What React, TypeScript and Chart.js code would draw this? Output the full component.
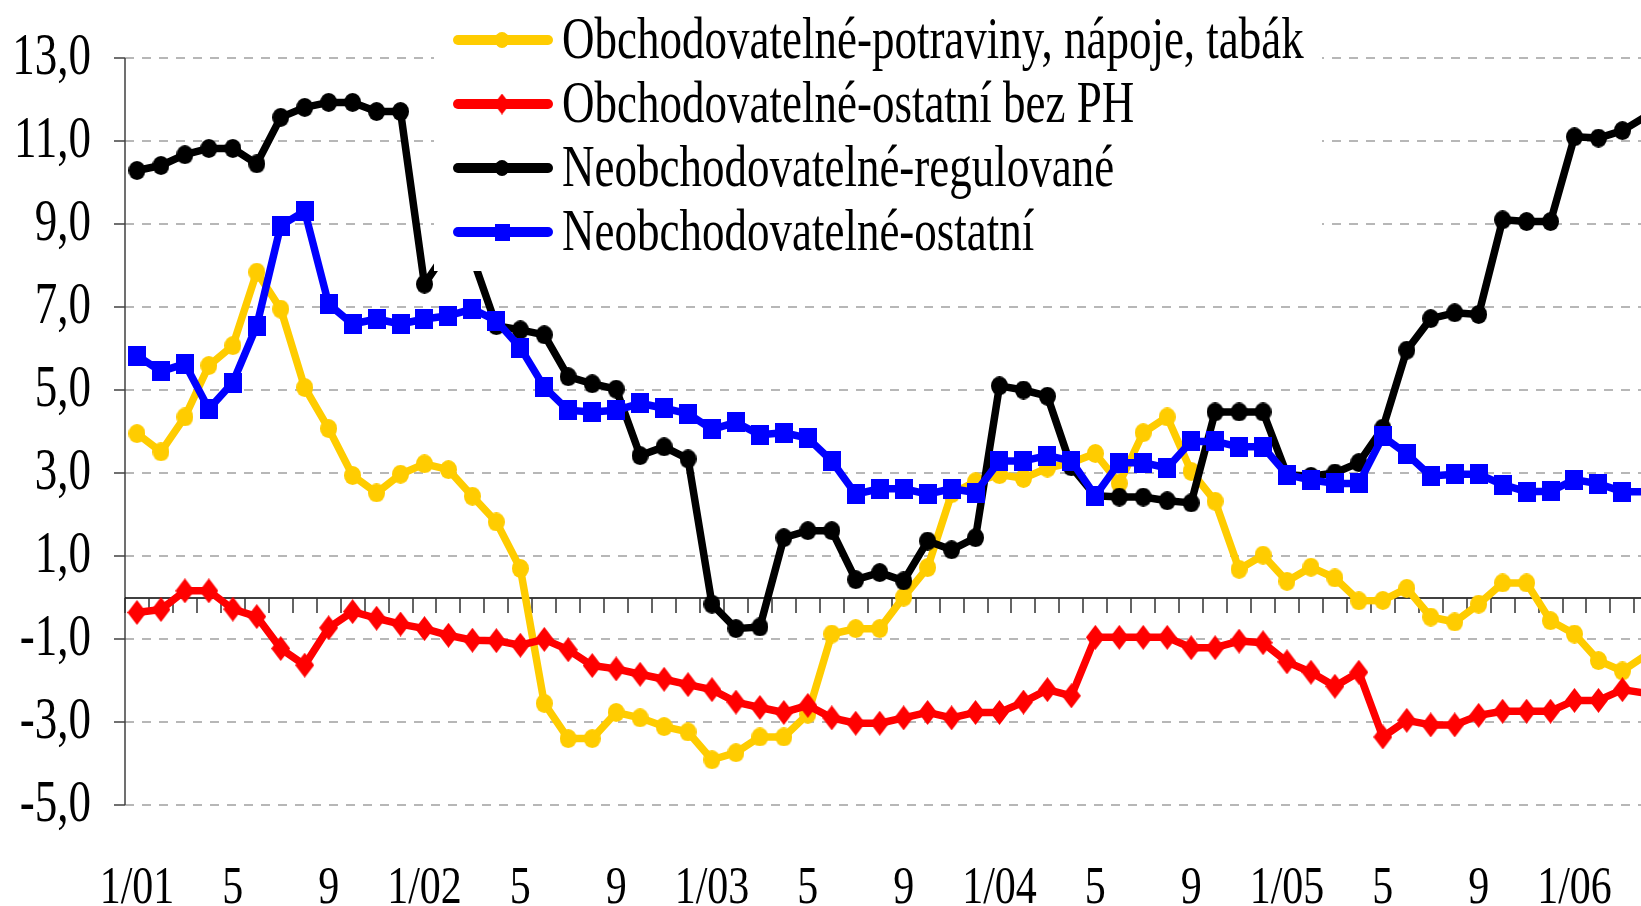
import React, { useEffect, useRef } from 'react';
import { Chart, registerables } from 'chart.js';

Chart.register(...registerables);

// ---------- DATA ----------
const categoryLabels: string[] = [
  '1/01', '', '', '', '5', '', '', '', '9', '', '', '',
  '1/02', '', '', '', '5', '', '', '', '9', '', '', '',
  '1/03', '', '', '', '5', '', '', '', '9', '', '', '',
  '1/04', '', '', '', '5', '', '', '', '9', '', '', '',
  '1/05', '', '', '', '5', '', '', '', '9', '', '', '',
  '1/06', '', '', '',
];

const yTickValues: number[] = [13, 11, 9, 7, 5, 3, 1, -1, -3, -5];

const seriesNames: string[] = [
  'Obchodovatelné-potraviny, nápoje, tabák',
  'Obchodovatelné-ostatní bez PH',
  'Neobchodovatelné-regulované',
  'Neobchodovatelné-ostatní',
];

const potraviny: number[] = [
  3.95, 3.51, 4.35, 5.59, 6.07, 7.84, 6.95, 5.06, 4.07, 2.94, 2.52, 2.97,
  3.22, 3.08, 2.44, 1.82, 0.7, -2.55, -3.4, -3.4, -2.77, -2.9, -3.11, -3.24,
  -3.91, -3.74, -3.36, -3.36, -2.81, -0.88, -0.75, -0.75, 0.01, 0.72, 2.5, 2.79,
  2.96, 2.87, 3.12, 3.25, 3.47, 2.75, 3.97, 4.35, 3.04, 2.32, 0.68, 1.02,
  0.39, 0.73, 0.47, -0.08, -0.07, 0.22, -0.47, -0.59, -0.16, 0.35, 0.35, -0.56,
  -0.88, -1.52, -1.77, -1.38,
];

const ostatniBezPH: number[] = [
  -0.36, -0.29, 0.16, 0.16, -0.28, -0.46, -1.23, -1.63, -0.73, -0.34, -0.5, -0.64,
  -0.75, -0.91, -1.03, -1.04, -1.15, -1.01, -1.26, -1.64, -1.72, -1.85, -1.97, -2.1,
  -2.22, -2.52, -2.65, -2.77, -2.6, -2.9, -3.03, -3.03, -2.9, -2.77, -2.9, -2.77,
  -2.77, -2.52, -2.22, -2.37, -0.96, -0.96, -0.96, -0.96, -1.21, -1.21, -1.05, -1.09,
  -1.55, -1.8, -2.14, -1.8, -3.36, -2.96, -3.07, -3.07, -2.84, -2.74, -2.74, -2.74,
  -2.48, -2.48, -2.22, -2.31,
];

const regulovane: number[] = [
  10.29, 10.41, 10.67, 10.82, 10.82, 10.45, 11.57, 11.81, 11.93, 11.93, 11.71, 11.71,
  7.55, 8.4, 8.2, 6.55, 6.45, 6.33, 5.32, 5.15, 5.02, 3.42, 3.63, 3.34,
  -0.16, -0.75, -0.71, 1.44, 1.61, 1.61, 0.43, 0.6, 0.4, 1.36, 1.15, 1.44,
  5.1, 5.0, 4.85, 3.15, 2.45, 2.42, 2.42, 2.33, 2.28, 4.47, 4.47, 4.47,
  2.96, 2.92, 3.0, 3.25, 4.08, 5.96, 6.72, 6.86, 6.82, 9.1, 9.06, 9.06,
  11.1, 11.07, 11.25, 11.6,
];

const neobchOstatni: number[] = [
  5.83, 5.45, 5.63, 4.54, 5.18, 6.55, 8.96, 9.31, 7.07, 6.59, 6.71, 6.59,
  6.71, 6.79, 6.95, 6.67, 6.02, 5.07, 4.51, 4.47, 4.51, 4.68, 4.56, 4.43,
  4.05, 4.22, 3.92, 3.97, 3.84, 3.29, 2.49, 2.62, 2.62, 2.49, 2.62, 2.53,
  3.29, 3.29, 3.42, 3.29, 2.45, 3.25, 3.25, 3.12, 3.76, 3.76, 3.63, 3.63,
  2.96, 2.83, 2.75, 2.75, 3.88, 3.46, 2.93, 2.97, 2.97, 2.72, 2.55, 2.56,
  2.84, 2.74, 2.55, 2.55,
];

// ---------- STYLE ----------
const COLORS = ['#FFCC00', '#FF0000', '#000000', '#0000FF'];
const SERIF = '"Liberation Serif", "Times New Roman", Times, serif';

function makeMarker(kind: 'circle' | 'square' | 'diamond', color: string, scale = 1): HTMLCanvasElement {
  const c = document.createElement('canvas');
  let w = 17, h = 19;
  if (kind === 'square') { w = 18; h = 20; }
  if (kind === 'diamond') { w = 19; h = 25; }
  w = Math.round(w * scale); h = Math.round(h * scale);
  c.width = w; c.height = h;
  const g = c.getContext('2d')!;
  g.fillStyle = color;
  g.beginPath();
  if (kind === 'circle') {
    g.ellipse(w / 2, h / 2, w / 2, h / 2, 0, 0, Math.PI * 2);
  } else if (kind === 'square') {
    g.rect(0, 0, w, h);
  } else {
    g.moveTo(w / 2, 0); g.lineTo(w, h / 2); g.lineTo(w / 2, h); g.lineTo(0, h / 2); g.closePath();
  }
  g.fill();
  return c;
}

function drawText(ctx: CanvasRenderingContext2D, text: string, x: number, y: number, px: number, sy: number, align: CanvasTextAlign) {
  ctx.save();
  ctx.translate(x, y);
  ctx.scale(1, sy);
  ctx.font = `${px}px ${SERIF}`;
  ctx.textAlign = align;
  ctx.textBaseline = 'alphabetic';
  ctx.fillStyle = '#000';
  ctx.fillText(text, 0, 0);
  ctx.restore();
}

export default function App() {
  const ref = useRef<HTMLCanvasElement | null>(null);

  useEffect(() => {
    const canvas = ref.current;
    if (!canvas) return;
    const markers = [
      makeMarker('circle', COLORS[0]),
      makeMarker('diamond', COLORS[1]),
      makeMarker('circle', COLORS[2]),
      makeMarker('square', COLORS[3]),
    ];
    const legendMarkers = [
      makeMarker('circle', COLORS[0], 0.85),
      makeMarker('diamond', COLORS[1], 0.85),
      makeMarker('circle', COLORS[2], 0.85),
      makeMarker('square', COLORS[3], 0.85),
    ];
    const allSeries = [potraviny, ostatniBezPH, regulovane, neobchOstatni];

    const backgroundPlugin = {
      id: 'bgAxes',
      beforeDatasetsDraw(chart: any) {
        const { ctx, chartArea: ca, scales } = chart;
        const ys = scales.y, xs = scales.x;
        ctx.save();
        ctx.lineWidth = 1.5;
        ctx.strokeStyle = '#a0a0a0';
        ctx.setLineDash([9, 8]);
        for (const v of yTickValues) {
          const py = Math.round(ys.getPixelForValue(v));
          ctx.beginPath(); ctx.moveTo(ca.left, py); ctx.lineTo(chart.width, py); ctx.stroke();
        }
        ctx.setLineDash([]);
        ctx.strokeStyle = '#404040';
        for (const v of yTickValues) {
          const py = Math.round(ys.getPixelForValue(v));
          ctx.beginPath(); ctx.moveTo(ca.left - 11, py); ctx.lineTo(ca.left, py); ctx.stroke();
        }
        ctx.beginPath();
        ctx.moveTo(ca.left, ys.getPixelForValue(13));
        ctx.lineTo(ca.left, ys.getPixelForValue(-5));
        ctx.stroke();
        const y0 = Math.round(ys.getPixelForValue(0));
        ctx.strokeStyle = '#000';
        ctx.beginPath(); ctx.moveTo(ca.left, y0); ctx.lineTo(chart.width, y0); ctx.stroke();
        ctx.strokeStyle = '#303030';
        for (let k = 0; k <= categoryLabels.length; k++) {
          const px = Math.round(xs.getPixelForValue(k - 0.5));
          ctx.beginPath(); ctx.moveTo(px, y0); ctx.lineTo(px, y0 + 15); ctx.stroke();
        }
        ctx.restore();
      },
    };

    const overlayPlugin = {
      id: 'overlay',
      afterDraw(chart: any) {
        const { ctx, scales } = chart;
        const ys = scales.y, xs = scales.x;
        for (const v of yTickValues) {
          const py = ys.getPixelForValue(v);
          drawText(ctx, v.toFixed(1).replace('.', ','), 91, py + 15.5, 45, 1.3, 'right');
        }
        categoryLabels.forEach((lab, i) => {
          if (!lab) return;
          drawText(ctx, lab, xs.getPixelForValue(i), 903, 42, 1.27, 'center');
        });
        ctx.save();
        ctx.fillStyle = '#ffffff';
        ctx.fillRect(434, 0, 888, 271);
        ctx.restore();
        seriesNames.forEach((name, k) => {
          const ly = 40 + 64 * k;
          ctx.save();
          ctx.strokeStyle = COLORS[k];
          ctx.lineWidth = 10;
          ctx.lineCap = 'round';
          ctx.beginPath(); ctx.moveTo(458, ly); ctx.lineTo(548, ly); ctx.stroke();
          const m = legendMarkers[k];
          ctx.drawImage(m, 502 - m.width / 2, ly - m.height / 2);
          ctx.restore();
          drawText(ctx, name, 562, ly + 17.5, 45, 1.3, 'left');
        });
      },
    };

    const chart = new Chart(canvas, {
      type: 'line',
      data: {
        datasets: allSeries.map((arr, k) => ({
          label: seriesNames[k],
          data: arr.map((v, i) => ({ x: i, y: v })),
          borderColor: COLORS[k],
          backgroundColor: COLORS[k],
          borderWidth: 7.5,
          borderJoinStyle: 'round',
          borderCapStyle: 'round',
          pointStyle: markers[k] as any,
          pointRadius: 9,
          pointBorderWidth: 0,
          tension: 0,
          clip: false as any,
          order: 4 - k,
        })),
      },
      options: {
        animation: false,
        responsive: false,
        maintainAspectRatio: false,
        devicePixelRatio: 1,
        layout: { padding: { top: 58, left: 0, right: 0, bottom: 0 } },
        plugins: { legend: { display: false }, tooltip: { enabled: false } },
        events: [],
        scales: {
          x: {
            type: 'linear',
            min: -0.5,
            max: 62.4,
            grid: { display: false },
            border: { display: false },
            ticks: { display: false },
            afterFit: (s: any) => { s.height = 101; },
          },
          y: {
            type: 'linear',
            min: -5,
            max: 13,
            grid: { display: false },
            border: { display: false },
            ticks: { display: false, stepSize: 2 },
            afterFit: (s: any) => { s.width = 125; },
          },
        },
      },
      plugins: [backgroundPlugin, overlayPlugin],
    } as any);

    return () => chart.destroy();
  }, []);

  return (
    <div style={{ position: 'fixed', left: 0, top: 0, width: 1641, height: 906, overflow: 'hidden', background: '#fff' }}>
      <canvas ref={ref} width={1641} height={906} style={{ display: 'block', width: 1641, height: 906 }} />
    </div>
  );
}
